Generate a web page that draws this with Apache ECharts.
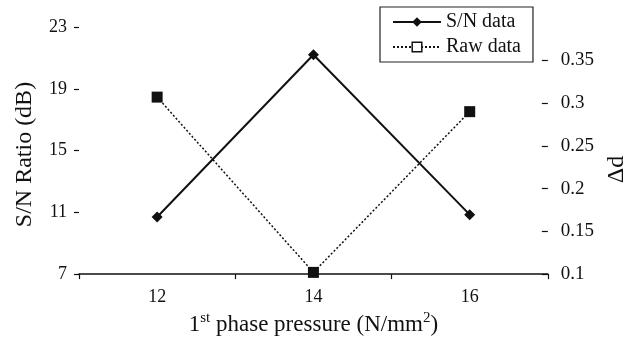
<!DOCTYPE html>
<html><head><meta charset="utf-8">
<script src="https://cdn.jsdelivr.net/npm/echarts@6/dist/echarts.min.js"></script>
<style>html,body{margin:0;padding:0;background:#fff}#c{width:637px;height:341px}</style>
</head><body><div id="c"></div>
<script>
const pressure = [12, 14, 16];
const snData = [10.7, 21.2, 10.85];
const rawData = [0.307, 0.102, 0.290];
const xLabels = [12, 14, 16];
const leftTicks = [7, 11, 15, 19, 23];
const rightTicks = [0.1, 0.15, 0.2, 0.25, 0.3, 0.35];

const font = 'Liberation Serif, Times New Roman, serif';
const chart = echarts.init(document.getElementById('c'), null, {renderer: 'canvas'});
chart.setOption({
  animation: false,
  backgroundColor: '#fff',
  textStyle: {fontFamily: font, color: '#111'},
  grid: {left: 79, right: 87, top: 27, bottom: 64, containLabel: false},
  legend: {
    orient: 'vertical', left: 380, top: 7,
    padding: [5, 12, 5, 12], itemGap: 5,
    itemWidth: 48, itemHeight: 12,
    borderColor: '#222', borderWidth: 1.2,
    textStyle: {fontFamily: font, fontSize: 20, color: '#111'},
    data: [
      {name: 'S/N data'},
      {name: 'Raw data', itemStyle: {color: '#fff', borderColor: '#111', borderWidth: 1.5}}
    ]
  },
  xAxis: {
    type: 'value', min: 11, max: 17, interval: 1,
    axisLine: {show: true, lineStyle: {color: '#111', width: 1.5}},
    axisTick: {show: true, length: 5, customValues: [11, 13, 15, 17], lineStyle: {color: '#111', width: 1.2}},
    axisLabel: {customValues: xLabels, fontFamily: font, fontSize: 18, color: '#111', margin: 14},
    splitLine: {show: false},
    name: '1{sup|st} phase pressure (N/mm{sup|2})',
    nameLocation: 'middle', nameGap: 36,
    nameTextStyle: {fontFamily: font, fontSize: 23, color: '#111',
      rich: {sup: {fontFamily: font, fontSize: 15, verticalAlign: 'top', padding: [0, 0, 12, 0], color: '#111'}}}
  },
  yAxis: [
    {
      type: 'value', min: 7, max: 23, interval: 4, position: 'left',
      axisLine: {show: false},
      axisTick: {show: true, length: 5, lineStyle: {color: '#111', width: 1.2}},
      axisLabel: {customValues: leftTicks, fontFamily: font, fontSize: 18, color: '#111', margin: 12},
      splitLine: {show: false},
      name: 'S/N Ratio (dB)', nameLocation: 'middle', nameGap: 42,
      nameTextStyle: {fontFamily: font, fontSize: 24, color: '#111', padding: [0, 8, 0, 0]}
    },
    {
      type: 'value', min: 0.1, max: 0.389, position: 'right',
      axisLine: {show: false},
      axisTick: {show: true, inside: true, length: 6, customValues: rightTicks, lineStyle: {color: '#111', width: 1.2}},
      axisLabel: {customValues: rightTicks, fontFamily: font, fontSize: 19, color: '#111', margin: 13},
      splitLine: {show: false},
      name: 'Δd', nameLocation: 'middle', nameGap: 55, nameRotate: 90,
      nameTextStyle: {fontFamily: font, fontSize: 24, color: '#111', padding: [0, 38, 0, 0]}
    }
  ],
  series: [
    {
      name: 'S/N data', type: 'line', yAxisIndex: 0,
      data: pressure.map((p, i) => [p, snData[i]]),
      symbol: 'diamond', symbolSize: 11,
      lineStyle: {color: '#111', width: 2},
      itemStyle: {color: '#111'}
    },
    {
      name: 'Raw data', type: 'line', yAxisIndex: 1,
      data: pressure.map((p, i) => [p, rawData[i]]),
      symbol: 'rect', symbolSize: 11,
      lineStyle: {color: '#111', width: 1.5, type: [2, 2]},
      itemStyle: {color: '#111'}
    }
  ]
});
</script></body></html>
